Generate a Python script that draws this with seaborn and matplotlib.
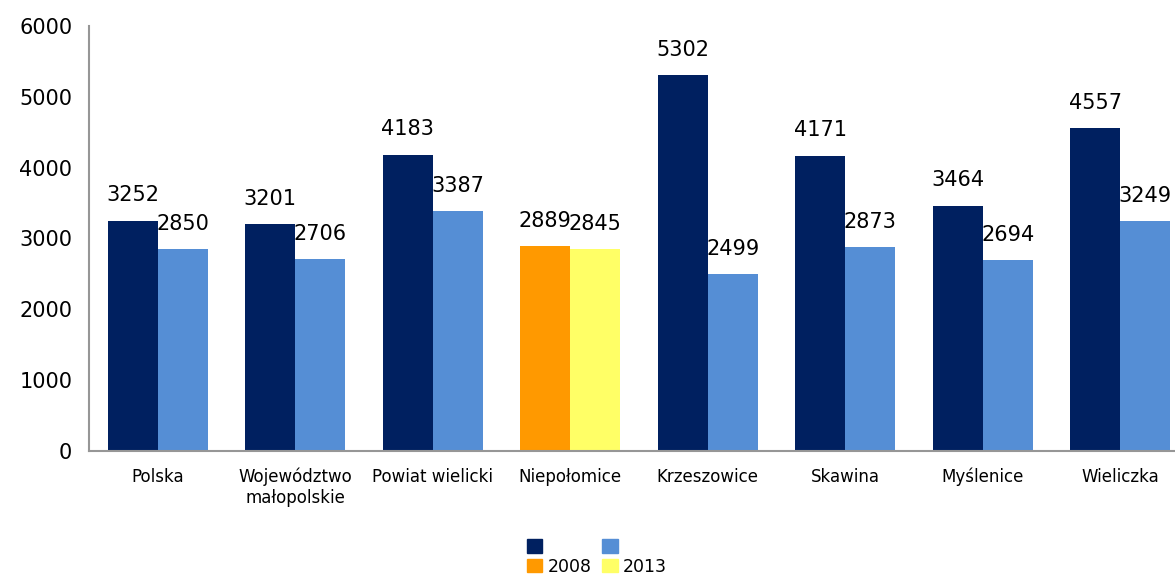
import pandas as pd
import matplotlib.pyplot as plt
import seaborn as sns
from matplotlib.patches import Patch

# chart data #
categories = ["Polska", "Województwo\nmałopolskie", "Powiat wielicki", "Niepołomice",
              "Krzeszowice", "Skawina", "Myślenice", "Wieliczka"]
years = ["2008", "2013"]
values_2008 = [3252, 3201, 4183, 2889, 5302, 4171, 3464, 4557]
values_2013 = [2850, 2706, 3387, 2845, 2499, 2873, 2694, 3249]

df = pd.DataFrame({
    "gmina": categories * 2,
    "rok": [years[0]] * len(categories) + [years[1]] * len(categories),
    "wartosc": values_2008 + values_2013,
})

dark = "#002060"
light = "#558ED5"
orange = "#FF9900"
yellow = "#FFFF66"

sns.set_style("white")
plt.rcParams['font.family'] = ['DejaVu Sans']
plt.rcParams['text.color'] = 'black'
plt.rcParams['xtick.color'] = 'black'
plt.rcParams['ytick.color'] = 'black'

fig = plt.figure(figsize=(11.75, 5.77), dpi=100)
ax = fig.add_axes([89 / 1175, 126 / 577, 1100 / 1175, 425 / 577])

sns.barplot(data=df, x="gmina", y="wartosc", hue="rok", order=categories,
            palette=[dark, light], width=0.727, saturation=1, legend=False, ax=ax)

# highlight Niepolomice #
highlight = categories.index("Niepołomice")
n = len(categories)
for i, p in enumerate(ax.patches[:2 * n]):
    p.set_edgecolor("none")
    if i % n == highlight:
        p.set_facecolor(orange if i < n else yellow)

# value labels #
for p in ax.patches[:2 * n]:
    h = p.get_height()
    ax.annotate(f"{h:.0f}", (p.get_x() + p.get_width() / 2, h),
                xytext=(0, 11), textcoords="offset points",
                ha="center", va="bottom", fontsize=15, color="black")

ax.set_ylim(0, 6000)
ax.set_xlim(-0.5, n - 0.5)
ax.set_yticks(range(0, 6001, 1000))
ax.tick_params(axis="y", labelsize=15, length=0, pad=12)
ax.tick_params(axis="x", labelsize=12, length=0, pad=12)
ax.set_xlabel("")
ax.set_ylabel("")

for s in ["top", "right"]:
    ax.spines[s].set_visible(False)
for s in ["left", "bottom"]:
    ax.spines[s].set_color("#969696")
    ax.spines[s].set_linewidth(1.5)

# odd two-row legend like the original #
handles = [Patch(color=dark), Patch(color=orange), Patch(color=light), Patch(color=yellow)]
labels = ["", "2008", "", "2013"]
fig.legend(handles, labels, ncol=2, loc="center", bbox_to_anchor=(0.508, 0.035),
           frameon=False, fontsize=12.5, handlelength=0.9, handleheight=0.8,
           handletextpad=0.3, columnspacing=0.6, labelspacing=0.1)

plt.savefig("out.png", dpi=100)
